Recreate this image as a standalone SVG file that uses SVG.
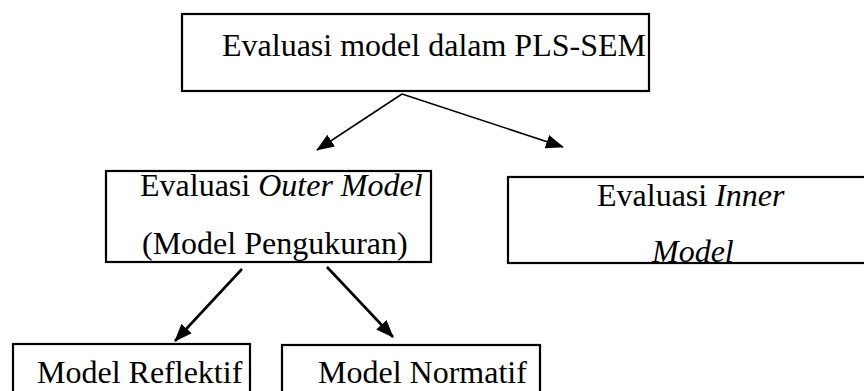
<svg xmlns="http://www.w3.org/2000/svg" width="864" height="391" viewBox="0 0 864 391">
  <style>
    .box { fill: #ffffff; stroke: #000000; stroke-width: 2.2; }
    .lbl { font-family: "Liberation Serif", "Times New Roman", serif; font-size: 32px; fill: #000000; }
    .it { font-style: italic; }
    .thin { stroke: #000000; stroke-width: 1.5; fill: none; }
    .thick { stroke: #000000; stroke-width: 2.6; fill: none; }
  </style>
  <defs>
    <marker id="head" viewBox="0 0 18 14" refX="17" refY="7" markerWidth="18" markerHeight="14" markerUnits="userSpaceOnUse" orient="auto">
      <path d="M0,0 L18,7 L0,14 Z" fill="#000000"/>
    </marker>
  </defs>
  <rect width="864" height="391" fill="#ffffff"/>

  <g id="node-root">
    <rect class="box" x="182" y="14" width="467" height="77"/>
    <text class="lbl" x="222" y="56">Evaluasi model dalam PLS-SEM</text>
  </g>

  <g id="node-outer">
    <rect class="box" x="106" y="171" width="325" height="91"/>
    <text class="lbl" x="140" y="196">Evaluasi <tspan class="it">Outer Model</tspan></text>
    <text class="lbl" x="142" y="254">(Model Pengukuran)</text>
  </g>

  <g id="node-inner">
    <rect class="box" x="508" y="177" width="370" height="86"/>
    <text class="lbl" x="597" y="206">Evaluasi <tspan class="it">Inner</tspan></text>
    <text class="lbl it" x="652" y="262">Model</text>
  </g>

  <g id="node-reflektif">
    <rect class="box" x="13" y="344" width="237" height="60"/>
    <text class="lbl" x="37" y="383">Model Reflektif</text>
  </g>

  <g id="node-normatif">
    <rect class="box" x="282" y="345" width="258" height="60"/>
    <text class="lbl" x="318" y="383">Model Normatif</text>
  </g>

  <g id="connectors">
    <line class="thin" x1="402" y1="94" x2="317" y2="150" marker-end="url(#head)"/>
    <line class="thin" x1="402" y1="94" x2="563" y2="147" marker-end="url(#head)"/>
    <line class="thick" x1="242" y1="269" x2="175" y2="341" marker-end="url(#head)"/>
    <line class="thick" x1="327" y1="267" x2="393" y2="337" marker-end="url(#head)"/>
  </g>
</svg>
